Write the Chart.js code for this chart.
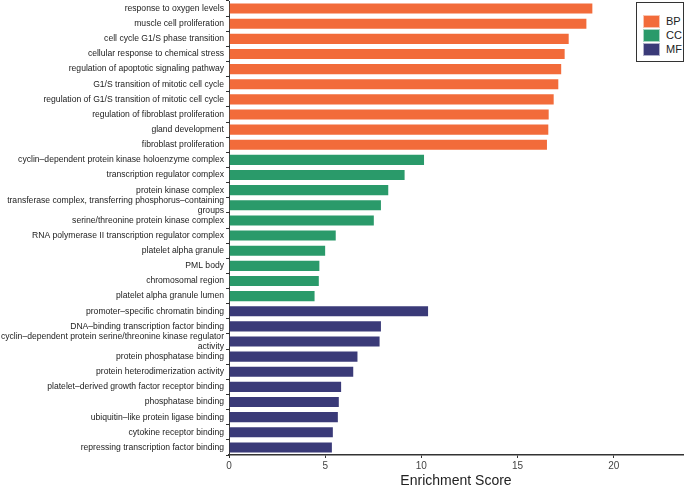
<!DOCTYPE html>
<html>
<head>
<meta charset="utf-8">
<script src="https://cdn.jsdelivr.net/npm/chart.js@4.4.0/dist/chart.umd.min.js"></script>
<style>
  html, body { margin: 0; padding: 0; background: #fff; }
  #wrap { position: relative; width: 685px; height: 487px; }
  #legend {
    position: absolute; left: 636px; top: 2px; width: 48px; height: 60px;
    border: 1px solid #333; box-sizing: border-box; background: #fff;
    font-family: "Liberation Sans", Arial, sans-serif; font-size: 11px; color: #222;
    padding-top: 11px;
  }
  .item { display: flex; align-items: center; height: 14px; }
  .key { width: 17px; height: 13px; margin-left: 6px; margin-right: 6px; box-sizing: border-box; border: 1px solid rgba(255,255,255,0.6); }
</style>
</head>
<body>
<div id="wrap">
  <canvas id="chart" width="685" height="487"></canvas>
  <div id="legend"></div>
</div>
<script>
const terms = [
  "response to oxygen levels",
  "muscle cell proliferation",
  "cell cycle G1/S phase transition",
  "cellular response to chemical stress",
  "regulation of apoptotic signaling pathway",
  "G1/S transition of mitotic cell cycle",
  "regulation of G1/S transition of mitotic cell cycle",
  "regulation of fibroblast proliferation",
  "gland development",
  "fibroblast proliferation",
  "cyclin–dependent protein kinase holoenzyme complex",
  "transcription regulator complex",
  "protein kinase complex",
  ["transferase complex, transferring phosphorus–containing", "groups"],
  "serine/threonine protein kinase complex",
  "RNA polymerase II transcription regulator complex",
  "platelet alpha granule",
  "PML body",
  "chromosomal region",
  "platelet alpha granule lumen",
  "promoter–specific chromatin binding",
  "DNA–binding transcription factor binding",
  ["cyclin–dependent protein serine/threonine kinase regulator", "activity"],
  "protein phosphatase binding",
  "protein heterodimerization activity",
  "platelet–derived growth factor receptor binding",
  "phosphatase binding",
  "ubiquitin–like protein ligase binding",
  "cytokine receptor binding",
  "repressing transcription factor binding"
];

const scores = [
  18.94, 18.63, 17.71, 17.5, 17.32, 17.17, 16.93, 16.67, 16.65, 16.58,
  10.19, 9.18, 8.33, 7.95, 7.58, 5.6, 5.05, 4.75, 4.72, 4.5,
  10.4, 7.95, 7.88, 6.73, 6.51, 5.88, 5.76, 5.71, 5.45, 5.4
];

const ontology = [
  "BP", "BP", "BP", "BP", "BP", "BP", "BP", "BP", "BP", "BP",
  "CC", "CC", "CC", "CC", "CC", "CC", "CC", "CC", "CC", "CC",
  "MF", "MF", "MF", "MF", "MF", "MF", "MF", "MF", "MF", "MF"
];

const groups = ["BP", "CC", "MF"];
const groupColors = { BP: "#F26B3A", CC: "#2A9A6A", MF: "#3A3A78" };

const FONT = "'Liberation Sans', Arial, sans-serif";

new Chart(document.getElementById("chart").getContext("2d"), {
  type: "bar",
  data: {
    labels: terms,
    datasets: [{
      data: scores,
      backgroundColor: ontology.map(g => groupColors[g]),
      borderColor: "rgba(255,255,255,0.55)",
      borderWidth: 1,
      barPercentage: 0.8,
      categoryPercentage: 1
    }]
  },
  options: {
    indexAxis: "y",
    responsive: false,
    animation: false,
    layout: { padding: { top: 1, right: 2, left: 0, bottom: 0 } },
    plugins: { legend: { display: false }, tooltip: { enabled: false } },
    scales: {
      y: {
        afterFit: s => { s.width = 229; s.paddingTop = 0; s.paddingBottom = 0; },
        grid: { drawOnChartArea: false, drawTicks: true, tickLength: 3, color: "#333" },
        border: { display: true, color: "#333", width: 1 },
        ticks: { color: "#222", font: { family: FONT, size: 8.6, lineHeight: 1.2 }, padding: 2, autoSkip: false }
      },
      x: {
        min: 0,
        max: 23.6,
        afterFit: s => { s.height = 32; s.paddingLeft = 0; s.paddingRight = 0; },
        afterBuildTicks: s => { s.ticks = s.ticks.filter(t => t.value % 5 === 0); },
        grid: { drawOnChartArea: false, drawTicks: true, tickLength: 3, color: "#333" },
        border: { display: true, color: "#333", width: 1.5 },
        ticks: { stepSize: 5, color: "#444", font: { family: FONT, size: 10 }, padding: 2, maxRotation: 0 },
        title: { display: true, text: "Enrichment Score", color: "#222", font: { family: FONT, size: 14 }, padding: { top: 0, bottom: -3 } }
      }
    }
  }
});

const legend = document.getElementById("legend");
groups.forEach(g => {
  const row = document.createElement("div");
  row.className = "item";
  const key = document.createElement("span");
  key.className = "key";
  key.style.background = groupColors[g];
  const txt = document.createElement("span");
  txt.textContent = g;
  row.appendChild(key);
  row.appendChild(txt);
  legend.appendChild(row);
});
</script>
</body>
</html>
